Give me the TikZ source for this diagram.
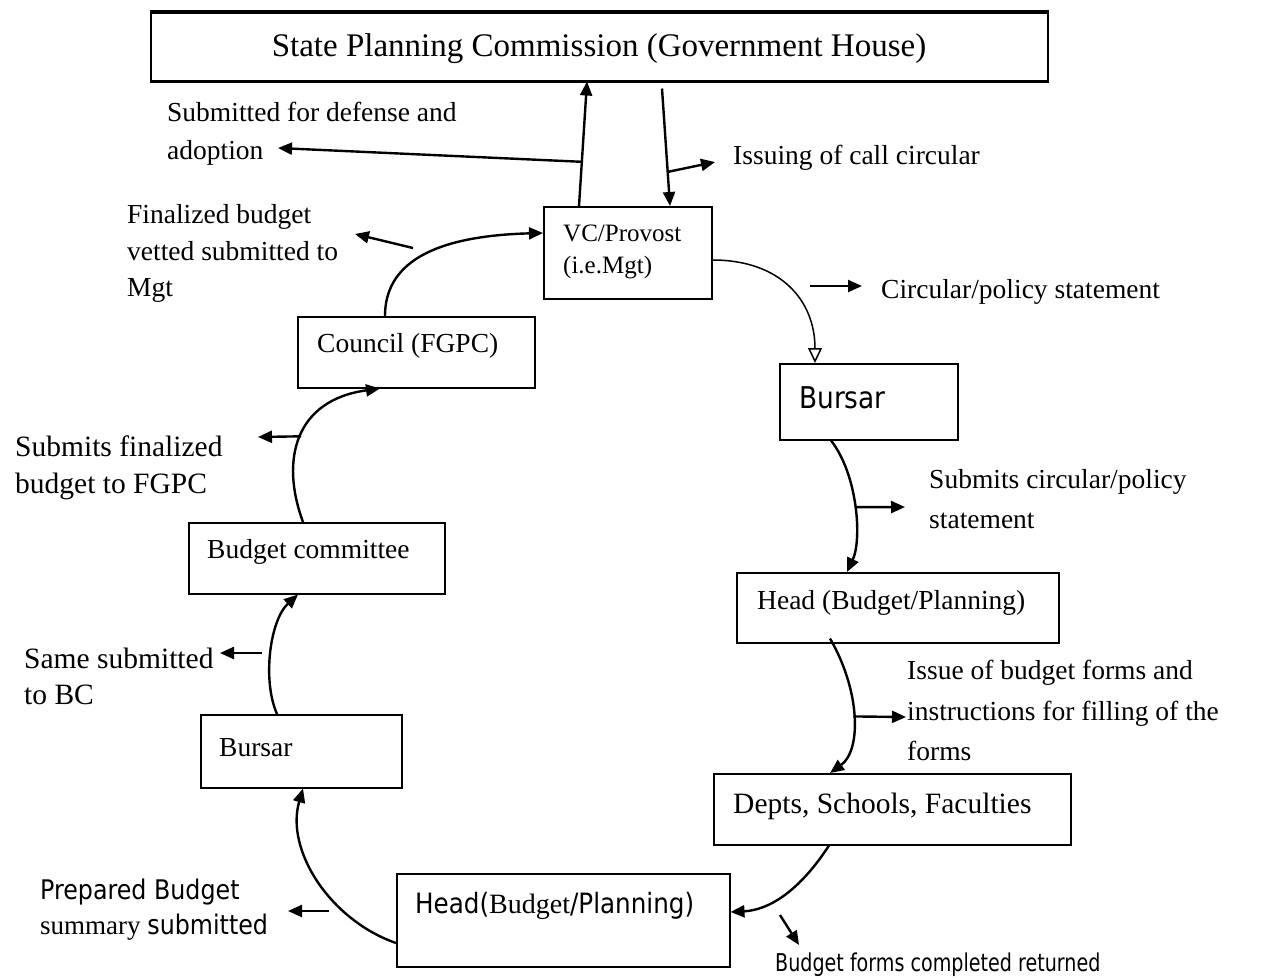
\documentclass[tikz,border=0pt]{standalone}
\usepackage{fontspec}
\setmainfont{Liberation Serif}
\newfontfamily\tah[FakeStretch=0.88]{DejaVu Sans}
\newfontfamily\tahn[FakeStretch=0.78]{DejaVu Sans}
\usetikzlibrary{arrows.meta}
\begin{document}
\begin{tikzpicture}[x=1pt,y=-1pt,
  box/.style={draw, line width=1.5pt, inner sep=0pt, anchor=north west},
  lbl/.style={inner sep=0pt, anchor=west, align=left, yshift=-3pt, font=\fontsize{27.5}{38}\selectfont},
  arr/.style={line width=2.4pt, -{Triangle[length=14pt,width=12pt]}},
  oarr/.style={line width=1.5pt, -{Triangle[open,length=15pt,width=14pt]}}
]
\useasboundingbox (0,0) rectangle (1263,977);

% boxes
\node[box, minimum width=897pt, minimum height=68pt] (spc) at (150,12) {};
\draw[line width=3.2pt] (spc.north west) -- (spc.north east);
\draw[line width=3.2pt] (spc.south west) -- (spc.south east);
\node[inner sep=0pt, font=\fontsize{33}{38}\selectfont] (spct) at (599,49) {State Planning Commission (Government House)};

\node[box, minimum width=168pt, minimum height=92pt] (vc) at (543,206) {};
\node[lbl, font=\fontsize{25}{32}\selectfont] (vct) at (563,249) {VC/Provost\\(i.e.Mgt)};

\node[box, minimum width=237pt, minimum height=71pt] (co) at (297,316) {};
\node[lbl] (cot) at (317,343) {Council (FGPC)};

\node[box, minimum width=256pt, minimum height=71pt] (bc) at (188,522) {};
\node[lbl] (bct) at (207,549) {Budget committee};

\node[box, minimum width=201pt, minimum height=73pt] (lb) at (200,714) {};
\node[lbl] (lbt) at (219,745) {Bursar};

\node[box, minimum width=333pt, minimum height=93pt] (bh) at (396,873) {};
\node[lbl] (bht) at (415,903) {{\tah\fontsize{28}{34}\selectfont Head(}{\fontsize{28}{34}\selectfont Budget}{\tah\fontsize{28}{34}\selectfont /Planning)}};

\node[box, minimum width=178pt, minimum height=76pt] (rb) at (779,363) {};
\node[lbl, font=\tah\fontsize{30}{36}\selectfont] (rbt) at (799,395) {Bursar};

\node[box, minimum width=322pt, minimum height=70pt] (rh) at (736,572) {};
\node[lbl] (rht) at (757,600) {Head (Budget/Planning)};

\node[box, minimum width=357pt, minimum height=71pt] (dp) at (713,773) {};
\node[lbl, font=\fontsize{29.5}{36}\selectfont] (dpt) at (733,803) {Depts, Schools, Faculties};

% free labels
\node[lbl] (l1) at (167,131) {Submitted for defense and\\adoption};
\node[lbl] (l2) at (733,155) {Issuing of call circular};
\node[lbl, font=\fontsize{27.5}{36.5}\selectfont] (l3) at (127,250.5) {Finalized budget\\vetted submitted to\\Mgt};
\node[lbl] (l4) at (881,289) {Circular/policy statement};
\node[lbl, font=\fontsize{27.5}{40}\selectfont] (l5) at (929,496) {Submits circular/policy\\statement};
\node[lbl, font=\fontsize{27.5}{40.5}\selectfont] (l6) at (907,707.5) {Issue of budget forms and\\instructions for filling of the\\forms};
\node[lbl, font=\fontsize{29.5}{36}\selectfont] (l7) at (24,673) {Same submitted\\to BC};
\node[lbl, font=\fontsize{29.5}{37}\selectfont] (l8) at (15,464.5) {Submits finalized\\budget to FGPC};
\node[lbl, font=\fontsize{27}{35}\selectfont] (l9) at (40,907) {{\tah Prepared Budget}\\summary {\tah submitted}};
\node[lbl, font=\tahn\fontsize{24.5}{28}\selectfont] (l10) at (775,962) {Budget forms completed returned};

% tips of side arrows
\coordinate (t1) at (278,148);
\coordinate (t2) at (715,162);
\coordinate (f3) at (413,248);
\coordinate (t3) at (355,234);
\coordinate (f4) at (810,286);
\coordinate (t4) at (862,286);
\coordinate (t5) at (905,507);
\coordinate (t6) at (906,717);
\coordinate (f10) at (780,915);
\coordinate (t10) at (799,945);
\coordinate (f9) at (329,911);
\coordinate (t9) at (288,911);
\coordinate (f7) at (262,653);
\coordinate (t7) at (220,653);
\coordinate (t8) at (258,437);

% main connectors
\draw[arr] ([xshift=36pt]vc.north west) -- ([xshift=437pt]spc.south west) coordinate[pos=0.355] (m1);
\draw[arr] ([xshift=512pt,yshift=-7pt]spc.south west) -- ([xshift=127pt]vc.north west) coordinate[pos=0.71] (m2);
\draw[arr] ([xshift=88pt]co.north west) .. controls (385,265) and (430,236) .. ([yshift=-27pt]vc.north west);
\draw[oarr] ([yshift=-54pt]vc.north east) .. controls (780,260) and (815,300) .. ([xshift=36pt]rb.north west);
\draw[arr] ([xshift=52pt]rb.south west) .. controls (858,475) and (862,540) .. ([xshift=111pt]rh.north west) coordinate[pos=0.5] (m5);
\draw[arr] ([xshift=94pt,yshift=5pt]rh.south west) .. controls (860,690) and (862,750) .. ([xshift=117pt]dp.north west) coordinate[pos=0.5] (m6);
\draw[arr] ([xshift=116pt]dp.south west) .. controls (800,890) and (770,910) .. ([yshift=-39pt]bh.north east);
\draw[arr] ([yshift=-70pt]bh.north west) .. controls (330,920) and (285,850) .. ([xshift=103pt]lb.south west);
\draw[arr] ([xshift=77pt]lb.north west) .. controls (262,680) and (270,620) .. ([xshift=110pt]bc.south west);
\draw[arr] ([xshift=115pt]bc.north west) .. controls (280,460) and (295,400) .. ([xshift=83pt]co.south west) coordinate[pos=0.5] (m8);

% side arrows
\draw[arr] (m1) -- (t1);
\draw[arr] (m2) -- (t2);
\draw[arr] (f3) -- (t3);
\draw[arr] (f4) -- (t4);
\draw[arr] (m5) -- (t5);
\draw[arr] (m6) -- (t6);
\draw[arr] (f10) -- (t10);
\draw[arr] (f9) -- (t9);
\draw[arr] (f7) -- (t7);
\draw[arr] (m8) -- (t8);
\end{tikzpicture}
\end{document}
